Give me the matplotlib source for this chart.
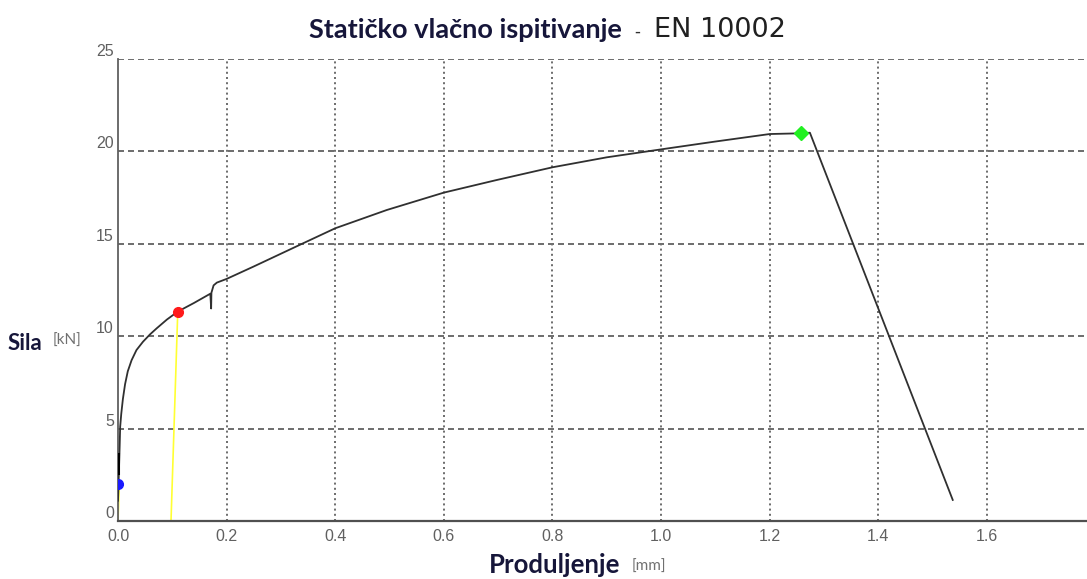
import matplotlib
matplotlib.use("Agg")
import matplotlib.pyplot as plt

# curve (elongation mm, force kN)
elong = [0.0, 0.001, 0.002, 0.003, 0.004, 0.006, 0.009, 0.013, 0.018, 0.025, 0.034, 0.046,
         0.059, 0.071, 0.09, 0.11, 0.14, 0.170, 0.1715, 0.172, 0.176, 0.182, 0.2, 0.249,
         0.341, 0.4, 0.495, 0.6, 0.697, 0.8, 0.9, 1.0, 1.099, 1.2, 1.258, 1.274, 1.537]
force = [1.1, 2.0, 3.0, 4.0, 5.1, 5.8, 6.6, 7.4, 8.1, 8.7, 9.25, 9.7,
         10.1, 10.42, 10.9, 11.33, 11.8, 12.3, 11.5, 12.35, 12.75, 12.9, 13.1, 13.76,
         15.03, 15.84, 16.83, 17.77, 18.45, 19.14, 19.68, 20.11, 20.53, 20.94, 20.98, 21.01, 1.14]

# offset (yellow) lines
offset1_x = [0.0, 0.002]
offset1_y = [0.0, 1.7]
offset2_x = [0.0976, 0.11]
offset2_y = [0.0, 11.3]

# marked points
pt_blue = (0.0, 2.0)
pt_red = (0.11, 11.3)
pt_green = (1.258, 20.98)

xticks = [0.0, 0.2, 0.4, 0.6, 0.8, 1.0, 1.2, 1.4, 1.6]
yticks = [0, 5, 10, 15, 20, 25]

fig = plt.figure(figsize=(10.87, 5.79), dpi=100)
ax = fig.add_axes([118 / 1087, 58 / 579, 1 - 118 / 1087, 462 / 579])

grid_col = "#707070"
for yv in yticks[1:]:
    ax.axhline(yv, color=grid_col, lw=1.44, ls=(0, (3, 2)), zorder=1)
for xv in xticks[1:]:
    ax.axvline(xv, color=grid_col, lw=1.44, ls=(0, (1, 1.6)), zorder=1)

ax.plot(offset1_x, offset1_y, color="#ffff33", lw=1.2, zorder=2)
ax.plot(offset2_x, offset2_y, color="#ffff33", lw=1.2, zorder=2)
ax.plot(elong, force, color="#303030", lw=1.3, zorder=3)
ax.plot([0.0, 0.0], [2.6, 3.6], color="black", lw=2.2, zorder=3)

ax.plot(*pt_blue, "o", color="#1a1aff", ms=7, zorder=4)
ax.plot(*pt_red, "o", color="#ff1a1a", ms=7, zorder=4)
ax.plot(*pt_green, "D", color="#22f022", ms=7, zorder=4)

ax.set_xlim(0, 969 / 543.1)
ax.set_ylim(0, 25)
ax.set_xticks(xticks)
ax.set_xticklabels([f"{v:.1f}" for v in xticks])
ax.set_yticks(yticks)
ax.set_yticklabels([str(v) for v in yticks])
ax.tick_params(length=0, labelsize=11.5, labelcolor="#606060")
ax.tick_params(axis="x", pad=6)
ax.tick_params(axis="y", pad=3)
for lbl in ax.get_xticklabels() + ax.get_yticklabels():
    lbl.set_fontfamily("Liberation Sans")
for lbl in ax.get_yticklabels():
    lbl.set_va("bottom")

for s in ["top", "right"]:
    ax.spines[s].set_visible(False)
ax.spines["left"].set_color("#606060")
ax.spines["left"].set_linewidth(1.3)
ax.spines["bottom"].set_color("#505050")
ax.spines["bottom"].set_linewidth(1.6)

dark = "#16163a"
fig.text(309 / 1087, 1 - 30 / 579, "Statičko vlačno ispitivanje", fontsize=19.5,
         fontweight="bold", family="Lato", color=dark, va="center", ha="left")
fig.text(634 / 1087, 1 - 32 / 579, "-", fontsize=12, family="DejaVu Sans",
         color="#303030", va="center", ha="left")
fig.text(654 / 1087, 1 - 30 / 579, "EN 10002", fontsize=19.5, family="DejaVu Sans",
         color="#202020", va="center", ha="left")

fig.text(8 / 1087, 1 - 343 / 579, "Sila", fontsize=16, fontweight="bold",
         family="Lato", color=dark, va="center", ha="left")
fig.text(53 / 1087, 1 - 341 / 579, "[kN]", fontsize=11, family="Lato",
         color="#707070", va="center", ha="left")

fig.text(489 / 1087, 1 - 565 / 579, "Produljenje", fontsize=18.5, fontweight="bold",
         family="Lato", color=dark, va="center", ha="left")
fig.text(632 / 1087, 1 - 567 / 579, "[mm]", fontsize=11, family="Lato",
         color="#707070", va="center", ha="left")

fig.savefig("out.png", dpi=100)
